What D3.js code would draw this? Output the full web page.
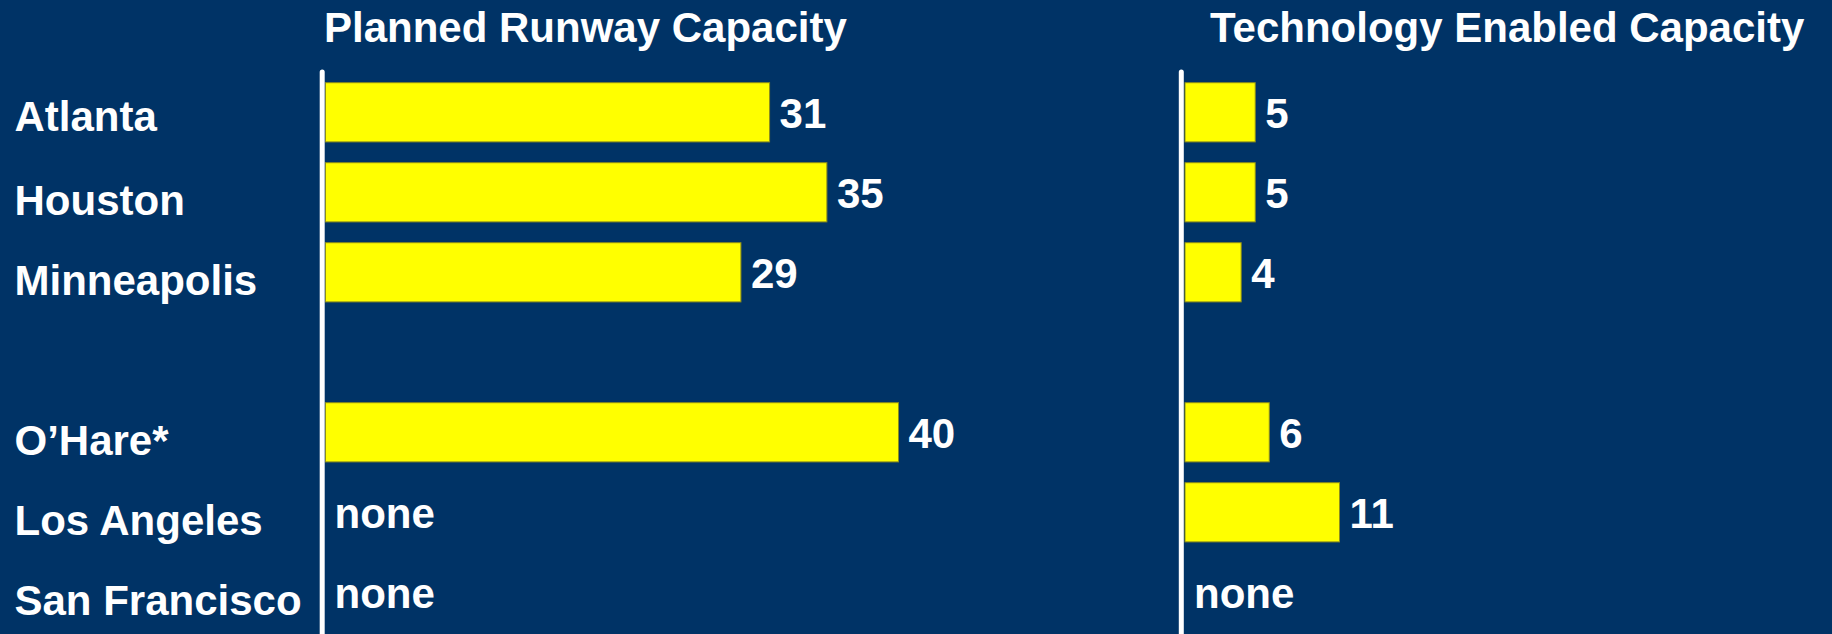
<!DOCTYPE html>
<html>
<head>
<meta charset="utf-8">
<script src="https://cdn.jsdelivr.net/npm/d3@7/dist/d3.min.js"></script>
<style>
  html, body { margin: 0; padding: 0; background: #003366; }
  svg { display: block; }
  text { font-family: "Liberation Sans", Arial, sans-serif; font-weight: bold; fill: #ffffff; }
</style>
</head>
<body>
<svg id="chart" width="1832" height="634"></svg>
<script>
// Airports listed top to bottom; the empty entry is a blank spacer row.
const categories = ["Atlanta", "Houston", "Minneapolis", "", "O\u2019Hare*", "Los Angeles", "San Francisco"];
// Added capacity per airport (null = no project, shown as "none").
const plannedRunway = [31, 35, 29, null, 40, null, null];
const technologyEnabled = [5, 5, 4, null, 6, 11, null];
const panelTitles = ["Planned Runway Capacity", "Technology Enabled Capacity"];
const noneLabel = "none";

const W = 1832, H = 634;
const svg = d3.select("#chart");

svg.append("rect").attr("width", W).attr("height", H).attr("fill", "#003366");

// Shared row layout for both panels
const y = d3.scaleBand()
  .domain(categories)
  .range([72.3, 632.3])
  .paddingInner(0.26)
  .paddingOuter(0.13);

// Row labels
svg.append("g")
  .selectAll("text")
  .data(categories.filter(c => c !== ""))
  .join("text")
  .attr("x", 14.5)
  .attr("y", (d, i) => y(d) + y.bandwidth() / 2 + (i === 0 ? 19 : 22.5))
  .attr("font-size", 42)
  .text(d => d);

function panel(values, title, axisX, x0, maxVal, maxPx, titleX) {
  const x = d3.scaleLinear().domain([0, maxVal]).range([x0, x0 + maxPx]);
  const g = svg.append("g");

  g.append("text")
    .attr("x", titleX)
    .attr("y", 42)
    .attr("font-size", 42)
    .text(title);

  const rows = categories.map((c, i) => ({ c, v: values[i] })).filter(d => d.c !== "");

  g.selectAll("rect.bar")
    .data(rows.filter(d => d.v != null))
    .join("rect")
    .attr("class", "bar")
    .attr("x", x(0))
    .attr("y", d => y(d.c))
    .attr("width", d => x(d.v) - x(0))
    .attr("height", y.bandwidth())
    .attr("fill", "#ffff00")
    .attr("stroke", "#8c8c1a")
    .attr("stroke-width", 1);

  g.selectAll("text.val")
    .data(rows)
    .join("text")
    .attr("class", "val")
    .attr("x", d => x(d.v == null ? 0 : d.v) + (d.v == null ? 9 : 10))
    .attr("y", d => y(d.c) + y.bandwidth() / 2 + 15.5)
    .attr("font-size", 42)
    .text(d => d.v == null ? noneLabel : d.v);

  // vertical baseline axis
  g.append("line")
    .attr("x1", axisX).attr("x2", axisX)
    .attr("y1", 72).attr("y2", H + 4)
    .attr("stroke", "#ffffff")
    .attr("stroke-width", 5)
    .attr("stroke-linecap", "round");
}

panel(plannedRunway, panelTitles[0], 322.2, 325.5, 40, 573, 324);
panel(technologyEnabled, panelTitles[1], 1181.3, 1185, 11, 154.5, 1210);
</script>
</body>
</html>
